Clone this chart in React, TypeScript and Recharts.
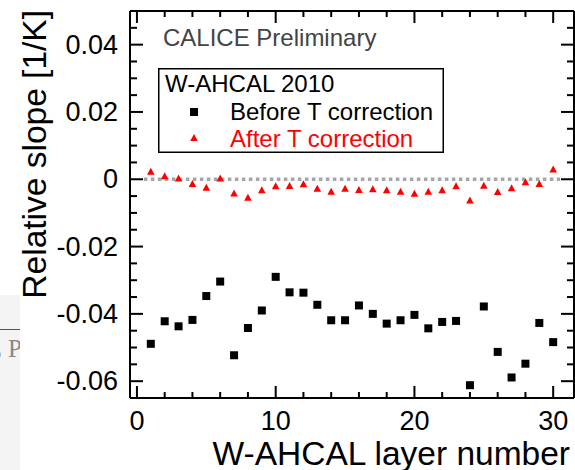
import React from 'react';
import { ScatterChart, Scatter, XAxis, YAxis, ReferenceLine, Legend } from 'recharts';

const layers = [1, 2, 3, 4, 5, 6, 7, 8, 9, 10, 11, 12, 13, 14, 15, 16, 17, 18, 19, 20, 21, 22, 23, 24, 25, 26, 27, 28, 29, 30];
const beforeCorrection = [-0.0489, -0.0422, -0.0437, -0.0418, -0.0347, -0.0304, -0.0523, -0.0442, -0.039, -0.029, -0.0336, -0.0337, -0.0373, -0.0419, -0.0419, -0.0375, -0.04, -0.0429, -0.0419, -0.0403, -0.0443, -0.0424, -0.0421, -0.0612, -0.0378, -0.0513, -0.0589, -0.0548, -0.0427, -0.0484];
const afterCorrection = [0.0022, 0.0009, 0.0002, -0.0014, -0.0025, 0.0002, -0.0042, -0.0055, -0.0033, -0.0021, -0.002, -0.0015, -0.0028, -0.0037, -0.0028, -0.0032, -0.003, -0.0033, -0.0037, -0.0043, -0.0037, -0.0033, -0.0021, -0.0063, -0.0019, -0.0038, -0.0027, -0.0009, -0.0014, 0.0029];

const xAllTicks = [0, 2, 4, 6, 8, 10, 12, 14, 16, 18, 20, 22, 24, 26, 28, 30];
const xMajorTicks = [0, 10, 20, 30];
const yAllTicks = [-0.06, -0.055, -0.05, -0.045, -0.04, -0.035, -0.03, -0.025, -0.02, -0.015, -0.01, -0.005, 0, 0.005, 0.01, 0.015, 0.02, 0.025, 0.03, 0.035, 0.04, 0.045];
const yMajorTicks = [-0.06, -0.04, -0.02, 0, 0.02, 0.04];
const zeroLineRange = [0.5, 30.5];

const legendTitle = 'W-AHCAL 2010';
const beforeName = 'Before T correction';
const afterName = 'After T correction';
const preliminaryText = 'CALICE Preliminary';
const xTitle = 'W-AHCAL layer number';
const yTitle = 'Relative slope [1/K]';

const beforeData = layers.map((x, i) => ({ x, y: beforeCorrection[i] }));
const afterData = layers.map((x, i) => ({ x, y: afterCorrection[i] }));

const FONT = '"Liberation Sans", Arial, Helvetica, sans-serif';
const TICK_COLOR = '#000';
const isIn = (arr: number[], v: number) => arr.some((m) => Math.abs(m - v) < 1e-9);

const BottomTick = (p: any) => {
  const v = p.payload.value;
  const major = isIn(xMajorTicks, v);
  return (
    <g>
      <line x1={p.x} x2={p.x} y1={p.y} y2={p.y - (major ? 12 : 6)} stroke={TICK_COLOR} strokeWidth={2} />
      {major && (
        <text x={p.x} y={p.y + 32} textAnchor="middle" fontSize={27} fontFamily={FONT} fill="#000">
          {String(v)}
        </text>
      )}
    </g>
  );
};

const TopTick = (p: any) => {
  const v = p.payload.value;
  const major = isIn(xMajorTicks, v);
  return <line x1={p.x} x2={p.x} y1={p.y} y2={p.y + (major ? 12 : 6)} stroke={TICK_COLOR} strokeWidth={2} />;
};

const LeftTick = (p: any) => {
  const v = p.payload.value;
  const major = isIn(yMajorTicks, v);
  return (
    <g>
      <line x1={p.x} x2={p.x + (major ? 13 : 7)} y1={p.y} y2={p.y} stroke={TICK_COLOR} strokeWidth={2} />
      {major && (
        <text x={p.x - 12} y={p.y + 9} textAnchor="end" fontSize={27} fontFamily={FONT} fill="#000">
          {String(v)}
        </text>
      )}
    </g>
  );
};

const RightTick = (p: any) => {
  const v = p.payload.value;
  const major = isIn(yMajorTicks, v);
  return <line x1={p.x} x2={p.x - (major ? 13 : 7)} y1={p.y} y2={p.y} stroke={TICK_COLOR} strokeWidth={2} />;
};

const SquareMark = (p: any) => <rect x={p.cx - 4} y={p.cy - 4} width={8} height={8} fill="#000" />;
const TriMark = (p: any) => (
  <polygon
    points={`${p.cx},${p.cy - 4} ${p.cx - 3.8},${p.cy + 3} ${p.cx + 3.8},${p.cy + 3}`}
    fill="#ff0000"
  />
);

const XTitleLabel = () => (
  <text x={570} y={465} textAnchor="end" fontSize={33.5} fontFamily={FONT} fill="#000">
    {xTitle}
  </text>
);

const YTitleLabel = () => (
  <text transform="translate(46,10) rotate(-90)" textAnchor="end" fontSize={33.5} fontFamily={FONT} fill="#000">
    {yTitle}
  </text>
);

const LegendBox = () => (
  <svg width={300} height={132} style={{ display: 'block', overflow: 'visible' }}>
    <text x={5} y={22} fontSize={24} fontFamily={FONT} fill="#444">
      {preliminaryText}
    </text>
    <rect x={0.75} y={44.75} width={284.5} height={83.5} fill="#fff" stroke="#000" strokeWidth={1.5} />
    <text x={7} y={67.5} fontSize={24} fontFamily={FONT} fill="#000">
      {legendTitle}
    </text>
    <rect x={32} y={84} width={8} height={8} fill="#000" />
    <text x={72} y={95.5} fontSize={24} fontFamily={FONT} fill="#000">
      {beforeName}
    </text>
    <polygon points="36,110 32.2,117 39.8,117" fill="#ff0000" />
    <text x={72} y={122.5} fontSize={24} fontFamily={FONT} fill="#ff0000">
      {afterName}
    </text>
  </svg>
);

export default function App() {
  return (
    <div style={{ position: 'absolute', left: 0, top: 0, width: 575, height: 470, background: '#fff' }}>
      <div
        style={{
          position: 'absolute',
          left: 0,
          top: 295,
          width: 20,
          height: 175,
          background: '#f4f4f4',
          overflow: 'hidden',
        }}
      >
        <div style={{ position: 'absolute', left: 0, top: 34, width: 20, height: 1, background: '#555' }} />
        <div
          style={{
            position: 'absolute',
            right: -2,
            top: 40,
            whiteSpace: 'nowrap',
            fontFamily: '"Liberation Serif", "Times New Roman", serif',
            fontSize: 25,
            color: '#888',
          }}
        >
          E P
        </div>
      </div>
      <ScatterChart width={575} height={470} margin={{ top: 10, right: 0, bottom: 0, left: 0 }}>
        <XAxis
          xAxisId="b"
          type="number"
          dataKey="x"
          orientation="bottom"
          domain={[-0.5, 31.5]}
          allowDataOverflow
          ticks={xAllTicks}
          interval={0}
          tickSize={0}
          tickMargin={0}
          tickLine={false}
          tick={<BottomTick />}
          axisLine={{ stroke: '#000', strokeWidth: 2 }}
          height={72}
          label={<XTitleLabel />}
        />
        <XAxis
          xAxisId="t"
          type="number"
          dataKey="x"
          orientation="top"
          domain={[-0.5, 31.5]}
          allowDataOverflow
          ticks={xAllTicks}
          interval={0}
          tickSize={0}
          tickMargin={0}
          tickLine={false}
          tick={<TopTick />}
          axisLine={{ stroke: '#000', strokeWidth: 2 }}
          height={1}
        />
        <YAxis
          yAxisId="l"
          type="number"
          dataKey="y"
          orientation="left"
          domain={[-0.065, 0.05]}
          allowDataOverflow
          ticks={yAllTicks}
          interval={0}
          tickSize={0}
          tickMargin={0}
          tickLine={false}
          tick={<LeftTick />}
          axisLine={{ stroke: '#000', strokeWidth: 2 }}
          width={130}
          label={<YTitleLabel />}
        />
        <YAxis
          yAxisId="r"
          type="number"
          dataKey="y"
          orientation="right"
          domain={[-0.065, 0.05]}
          allowDataOverflow
          ticks={yAllTicks}
          interval={0}
          tickSize={0}
          tickMargin={0}
          tickLine={false}
          tick={<RightTick />}
          axisLine={{ stroke: '#000', strokeWidth: 2 }}
          width={1}
        />
        <ReferenceLine
          xAxisId="b"
          yAxisId="l"
          segment={[
            { x: zeroLineRange[0], y: 0 },
            { x: zeroLineRange[1], y: 0 },
          ]}
          stroke="#a6a6a6"
          strokeWidth={3.5}
          strokeDasharray="3.5 3.5"
        />
        <Scatter xAxisId="t" yAxisId="r" data={afterData} shape={() => null} isAnimationActive={false} legendType="none" />
        <Scatter
          name={beforeName}
          xAxisId="b"
          yAxisId="l"
          data={beforeData}
          shape={<SquareMark />}
          isAnimationActive={false}
        />
        <Scatter
          name={afterName}
          xAxisId="b"
          yAxisId="l"
          data={afterData}
          shape={<TriMark />}
          isAnimationActive={false}
        />
        <Legend
          layout="vertical"
          align="center"
          verticalAlign="middle"
          wrapperStyle={{ left: 158, top: 24, width: 300, height: 132 }}
          content={<LegendBox />}
        />
      </ScatterChart>
    </div>
  );
}
